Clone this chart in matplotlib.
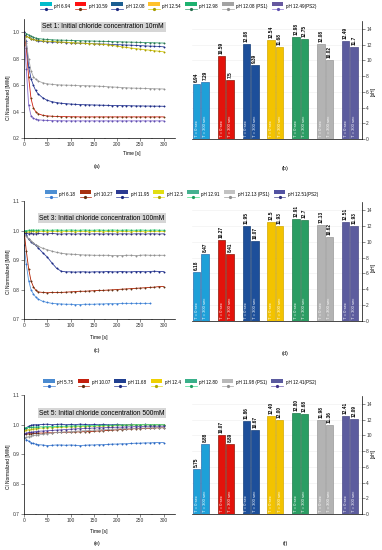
import matplotlib
matplotlib.use('Agg')
import matplotlib.pyplot as plt
import numpy as np
from matplotlib.legend_handler import HandlerBase
from matplotlib.patches import Rectangle
from matplotlib.lines import Line2D

plt.rcParams['font.family'] = ['Liberation Sans', 'DejaVu Sans']

# time axis of the chloride measurements [s]
time_s = [0, 5, 10, 15, 20, 25, 30, 40, 50, 60, 70, 80, 90, 100, 110, 120, 130, 140, 150,
          160, 170, 180, 190, 200, 210, 220, 230, 240, 250, 260, 270, 280, 290, 300]
nan = np.nan

# ---- Set 1: 10 mM ----
set1_names = ["pH 6.94", "pH 10.59", "pH 12.08", "pH 12.54", "pH 12.98", "pH 12.08 (PS1)", "pH 12.49(PS2)"]
set1_ph694 = [0.98, 0.97, 0.96, 0.95, 0.945, 0.94, 0.935, 0.93, 0.928, 0.926, 0.925, 0.924, 0.922, 0.92, 0.918, 0.917, 0.916,
              0.915, 0.913, 0.912, 0.91, 0.909, 0.907, 0.906, 0.905, 0.903, 0.902, 0.90, 0.899, 0.897, 0.895, 0.894, 0.892, 0.89]
set1_ph1059 = [1.0, 0.88, 0.66, 0.5, 0.43, 0.4, 0.385, 0.372, 0.367, 0.365, 0.363, 0.362, 0.362, 0.361, 0.361, 0.36, 0.36,
               0.36, 0.36, 0.36, 0.36, 0.36, 0.36, 0.36, 0.36, 0.36, 0.36, 0.36, 0.36, 0.36, 0.36, 0.36, 0.36, 0.36]
set1_ph1208 = [1.0, 0.93, 0.74, 0.65, 0.6, 0.56, 0.535, 0.505, 0.485, 0.475, 0.468, 0.463, 0.46, 0.457, 0.455, 0.453, 0.452,
               0.451, 0.45, 0.449, 0.448, 0.447, 0.446, 0.446, 0.445, 0.445, 0.444, 0.443, 0.443, 0.442, 0.442, 0.441, 0.441, 0.44]
set1_ph1254 = [0.9, 0.97, 0.96, 0.95, 0.945, 0.94, 0.938, 0.935, 0.932, 0.93, 0.928, 0.926, 0.924, 0.922, 0.92, 0.918, 0.916,
               0.914, 0.912, 0.91, 0.908, 0.905, 0.9, 0.895, 0.89, 0.885, 0.88, 0.876, 0.872, 0.868, 0.864, 0.86, 0.856, 0.852]
set1_ph1298 = [1.0, 0.99, 0.98, 0.97, 0.962, 0.956, 0.952, 0.948, 0.945, 0.943, 0.941, 0.94, 0.939, 0.938, 0.937, 0.936, 0.935,
               0.934, 0.933, 0.932, 0.931, 0.93, 0.929, 0.928, 0.927, 0.926, 0.925, 0.924, 0.923, 0.922, 0.921, 0.92, 0.919, 0.918]
set1_ps1 = [1.0, 0.92, 0.8, 0.71, 0.665, 0.645, 0.632, 0.618, 0.61, 0.606, 0.603, 0.601, 0.6, 0.599, 0.598, 0.597, 0.596,
            0.595, 0.594, 0.592, 0.59, 0.588, 0.586, 0.584, 0.582, 0.58, 0.578, 0.577, 0.576, 0.575, 0.574, 0.573, 0.572, 0.571]
set1_ps2 = [1.0, 0.72, 0.45, 0.37, 0.35, 0.342, 0.338, 0.335, 0.333, 0.332, 0.331, 0.331, 0.33, 0.33, 0.33, 0.33, 0.33,
            0.33, 0.33, 0.33, 0.33, 0.33, 0.33, 0.33, 0.33, 0.33, 0.33, 0.33, 0.33, 0.33, 0.33, 0.33, 0.33, 0.33]
set1_ph_t0 = ["6.94", "10.59", "12.08", "12.54", "12.98", "12.08", "12.49"]
set1_ph_t300 = ["7.29", "7.5", "9.39", "11.68", "12.75", "10.02", "11.7"]

# ---- Set 3: 100 mM ----
set3_names = ["pH 6.18", "pH 10.27", "pH 11.95", "pH 12.5", "pH 12.91", "pH 12.13 (PS1)", "pH 12.51(PS2)"]
set3_ph618 = [0.95, 0.885, 0.83, 0.8, 0.785, 0.775, 0.768, 0.76, 0.756, 0.753, 0.752, 0.751, 0.75, 0.75, 0.749, 0.749, 0.75,
              0.75, 0.75, 0.751, 0.751, 0.752, 0.752, 0.752, 0.753, 0.753, 0.753, 0.753, 0.753, 0.753, 0.753, nan, nan, nan]
set3_ph1027 = [1.0, 0.93, 0.87, 0.83, 0.81, 0.798, 0.792, 0.79, 0.789, 0.79, 0.79, 0.79, 0.791, 0.792, 0.793, 0.794, 0.794,
               0.795, 0.796, 0.797, 0.797, 0.798, 0.799, 0.8, 0.801, 0.802, 0.803, 0.804, 0.805, 0.806, 0.807, 0.808, 0.81, 0.81]
set3_ph1195 = [1.0, 0.985, 0.97, 0.962, 0.956, 0.95, 0.942, 0.925, 0.91, 0.89, 0.872, 0.862, 0.86, 0.86, 0.859, 0.86, 0.86,
               0.859, 0.86, 0.86, 0.86, 0.861, 0.86, 0.86, 0.861, 0.86, 0.86, 0.861, 0.861, 0.86, 0.861, 0.862, 0.861, 0.861]
set3_ph125 = [0.99, 0.995, 0.996, 0.997, 0.997, 0.996, 0.997, 0.997, 0.996, 0.997, 0.997, 0.996, 0.997, 0.997, 0.996, 0.997, 0.997,
              0.996, 0.997, 0.997, 0.996, 0.997, 0.997, 0.996, 0.997, 0.997, 0.996, 0.997, 0.997, 0.996, 0.997, 0.997, 0.997, 0.997]
set3_ph1291 = [1.0, 1.0, 1.001, 1.001, 1.002, 1.001, 1.001, 1.002, 1.001, 1.001, 1.002, 1.001, 1.001, 1.002, 1.001, 1.001, 1.002,
               1.001, 1.001, 1.002, 1.001, 1.001, 1.002, 1.001, 1.001, 1.002, 1.001, 1.001, 1.002, 1.001, 1.001, 1.002, 1.001, 1.001]
set3_ps1 = [0.99, 0.98, 0.972, 0.965, 0.958, 0.952, 0.947, 0.94, 0.935, 0.93, 0.926, 0.923, 0.921, 0.92, 0.919, 0.918, 0.917,
            0.917, 0.916, 0.916, 0.916, 0.916, 0.915, 0.915, 0.915, 0.916, 0.916, 0.915, 0.916, 0.917, 0.916, 0.916, 0.916, 0.916]
set3_ps2 = [0.99, 0.99, 0.989, 0.99, 0.989, 0.989, 0.99, 0.989, 0.989, 0.99, 0.989, 0.988, 0.989, 0.989, 0.988, 0.989, 0.989,
            0.988, 0.989, 0.989, 0.988, 0.989, 0.989, 0.988, 0.989, 0.989, 0.988, 0.989, 0.989, 0.988, 0.989, 0.989, 0.988, 0.989]
set3_ph_t0 = ["6.18", "10.27", "11.95", "12.5", "12.91", "12.13", "12.51"]
set3_ph_t300 = ["8.47", "8.41", "10.07", "11.93", "12.7", "10.62", "11.93"]

# ---- Set 5: 500 mM ----
set5_names = ["pH 5.75", "pH 10.07", "pH 11.68", "pH 12.4", "pH 12.80", "pH 11.98 (PS1)", "pH 12.41(PS2)"]
set5_ph575 = [0.96, 0.95, 0.945, 0.94, 0.937, 0.935, 0.933, 0.932, 0.93, 0.931, 0.932, 0.932, 0.931, 0.932, 0.931, 0.93, 0.931,
              0.932, 0.932, 0.933, 0.933, 0.934, 0.935, 0.935, 0.936, 0.936, 0.937, 0.938, 0.938, 0.939, 0.939, 0.94, 0.94, 0.94]
set5_ph1007 = [0.968, 0.969, 0.97, 0.97, 0.971, 0.971, 0.972, 0.972, 0.973, 0.973, 0.974, 0.974, 0.975, 0.975, 0.976, 0.976, 0.977,
               0.977, 0.978, 0.979, 0.98, 0.981, 0.982, 0.983, 0.984, 0.985, 0.986, 0.987, 0.987, 0.988, 0.988, 0.989, 0.99, 0.99]
set5_ph1168 = [0.985, 0.99, 0.995, 0.998, 1.0, 1.0, 1.0, 1.001, 1.002, 1.0, 1.001, 1.002, 1.0, 1.001, 1.0, 1.002, 1.001,
               1.0, 1.001, 1.0, 1.001, 1.0, 1.0, 1.001, 1.0, 1.0, 1.001, 1.0, 1.0, 1.001, 1.0, 1.0, 1.0, 1.0]
set5_ph124 = [0.98, 0.982, 0.984, 0.985, 0.986, 0.987, 0.988, 0.989, 0.99, 0.99, 0.991, 0.992, 0.992, 0.993, 0.993, 0.994, 0.994,
              0.995, 0.995, 0.996, 0.996, 0.997, 0.997, 0.998, 0.998, 0.999, 0.999, 1.0, 1.0, 1.0, 1.0, 1.0, 1.0, 1.0]
set5_ph1280 = [0.99, 0.99, 0.991, 0.991, 0.992, 0.992, 0.993, 0.993, 0.994, 0.994, 0.995, 0.995, 0.995, 0.996, 0.996, 0.996, 0.997,
               0.997, 0.997, 0.998, 0.998, 0.998, 0.998, 0.999, 0.999, 0.999, 0.999, 1.0, 1.0, 1.0, 1.0, 1.0, 1.0, 1.0]
set5_ps1 = [0.955, 0.958, 0.96, 0.962, 0.964, 0.965, 0.966, 0.968, 0.97, 0.972, 0.974, 0.975, 0.976, 0.977, 0.978, 0.979, 0.98,
            0.981, 0.982, 0.983, 0.984, 0.985, 0.985, 0.986, 0.987, 0.987, 0.988, 0.988, 0.989, 0.989, 0.99, 0.99, 0.99, 0.99]
set5_ps2 = [0.97, 0.972, 0.974, 0.975, 0.976, 0.977, 0.978, 0.979, 0.98, 0.981, 0.982, 0.983, 0.984, 0.985, 0.986, 0.987, 0.988,
            0.988, 0.989, 0.99, 0.99, 0.991, 0.991, 0.992, 0.992, 0.993, 0.993, 0.994, 0.994, 0.995, 0.995, 0.995, 0.995, 0.995]
set5_ph_t0 = ["5.75", "10.07", "11.86", "12.40", "12.80", "11.98", "12.41"]
set5_ph_t300 = ["8.88", "8.89", "10.67", "12.00", "12.68", "11.36", "12.09"]

# colours
legend_colors = [
    ['#00bccb', '#ff1010', '#1b5e92', '#ffc12a', '#1db26f', '#a3a3a3', '#6658a0'],
    ['#4d8fd3', '#a8300f', '#2b3a92', '#e2de10', '#45b18f', '#c2c2c2', '#5252a2'],
    ['#4a8ad0', '#c4200e', '#203f90', '#efd000', '#3ab08a', '#b8b8b8', '#5a5a9e'],
]
line_colors = [
    ['#3a4fa0', '#d02010', '#2c3c9a', '#d8cf10', '#3aa070', '#a8a8a8', '#8a70d0'],
    ['#5a9ae0', '#b02000', '#2c3c9a', '#e8e020', '#40dd80', '#a0a0a0', '#4a4a90'],
    ['#4a86d6', '#b02810', '#2c3c9a', '#e4dc20', '#40d890', '#a8a8a8', '#6a5ab0'],
]
marker_colors = [
    ['#1c2a80', '#6b3a10', '#1c2a80', '#a89c00', '#2a7050', '#8f8f8f', '#6050b0'],
    ['#3a7ad0', '#603010', '#1c2a80', '#b0a800', '#20a060', '#8f8f8f', '#30307a'],
    ['#2a66c0', '#603010', '#1c2a80', '#b0a800', '#20a060', '#8f8f8f', '#40308a'],
]
bar_colors = ['#1ea0d8', '#e3120b', '#1d4f9a', '#f3c300', '#2a9d63', '#b3b3b3', '#5c5c9e']
bar_edges = ['#2a6fb0', '#8b1a0a', '#173f7a', '#d4a800', '#1d7a4a', '#9a9a9a', '#4a4a85']

sets = [
    dict(title="Set 1: Initial chloride concentration 10mM", names=set1_names,
         series=[set1_ph694, set1_ph1059, set1_ph1208, set1_ph1254, set1_ph1298, set1_ps1, set1_ps2],
         t0=set1_ph_t0, t300=set1_ph_t300, ylim=(0.2, 1.1), yticks=[0.2, 0.4, 0.6, 0.8, 1.0]),
    dict(title="Set 3: Initial chloride concentration 100mM", names=set3_names,
         series=[set3_ph618, set3_ph1027, set3_ph1195, set3_ph125, set3_ph1291, set3_ps1, set3_ps2],
         t0=set3_ph_t0, t300=set3_ph_t300, ylim=(0.7, 1.1), yticks=[0.7, 0.8, 0.9, 1.0, 1.1]),
    dict(title="Set 5: Initial chloride concentration 500mM", names=set5_names,
         series=[set5_ph575, set5_ph1007, set5_ph1168, set5_ph124, set5_ph1280, set5_ps1, set5_ps2],
         t0=set5_ph_t0, t300=set5_ph_t300, ylim=(0.7, 1.1), yticks=[0.7, 0.8, 0.9, 1.0, 1.1]),
]


class LegendKey:
    def __init__(self, patch, line, marker):
        self.patch, self.line, self.marker = patch, line, marker


class KeyHandler(HandlerBase):
    # coloured box on top, line with marker below (Origin style)
    def create_artists(self, legend, key, xdescent, ydescent, width, height, fontsize, trans):
        x0, y0 = -xdescent, -ydescent
        box = Rectangle((x0, y0 + height * 0.5), width, height * 0.55, facecolor=key.patch,
                        edgecolor='none', transform=trans)
        ln = Line2D([x0, x0 + width], [y0 + height * 0.08] * 2, color=key.line, lw=0.5, transform=trans)
        dot = Line2D([x0 + width / 2], [y0 + height * 0.08], marker='o', ms=1.3, color=key.marker,
                     lw=0, transform=trans)
        return [box, ln, dot]


fig = plt.figure(figsize=(3.82, 5.5), dpi=100)

line_rects = [[0.0628, 0.749, 0.395, 0.2165], [0.0628, 0.42, 0.395, 0.2145], [0.0628, 0.0655, 0.395, 0.2163]]
bar_rects = [[0.5026, 0.7473, 0.445, 0.2145], [0.5026, 0.4164, 0.445, 0.2163], [0.5026, 0.0655, 0.445, 0.2145]]
legend_pos = [(0.467, 0.989), (0.476, 0.647), (0.47, 0.3036)]
title_pos = [(0.27, 0.951), (0.267, 0.6036), (0.267, 0.249)]
time_pos = [(0.346, 0.72), (0.258, 0.387), (0.258, 0.033)]
ylab_pos = [0.822, 0.505, 0.151]
phlab_pos = [0.833, 0.513, 0.176]
letters = [("(a)", "(b)", 0.698, 0.6945), ("(c)", "(d)", 0.3636, 0.358), ("(e)", "(f)", 0.011, 0.011)]

for i, s in enumerate(sets):
    # ---- time series ----
    ax = fig.add_axes(line_rects[i])
    for k, vals in enumerate(s['series']):
        ax.plot(time_s, vals, color=line_colors[i][k], lw=0.6, marker='o', ms=1.1,
                mfc=marker_colors[i][k], mec=marker_colors[i][k], mew=0.2)
    ax.set_xlim(0, 324)
    ax.set_ylim(*s['ylim'])
    ax.set_xticks([0, 50, 100, 150, 200, 250, 300])
    ax.set_xticks(np.arange(25, 325, 50), minor=True)
    ax.set_yticks(s['yticks'])
    ax.set_yticklabels([f"{v:.1f}" for v in s['yticks']])
    for side in ['top', 'right']:
        ax.spines[side].set_visible(False)
    for side in ['left', 'bottom']:
        ax.spines[side].set_linewidth(0.5)
    ax.tick_params(labelsize=3.5, length=2, width=0.4, pad=1, colors='#333333')
    ax.tick_params(which='minor', length=1, width=0.3)
    fig.text(title_pos[i][0], title_pos[i][1], s['title'], fontsize=4.8, ha='center', va='center',
             bbox=dict(facecolor='#d6d6d6', edgecolor='none', pad=1.2))
    fig.text(time_pos[i][0], time_pos[i][1], "Time [s]", fontsize=3.5, ha='center', va='center')
    fig.text(0.021, ylab_pos[i], "Cl Normalized [M/M]", fontsize=3.5, rotation=90, ha='center', va='center')

    # ---- pH bars ----
    bx = fig.add_axes(bar_rects[i])
    pos = np.arange(len(s['t0']))
    h0 = [float(v) for v in s['t0']]
    h1 = [float(v) for v in s['t300']]
    bx.bar(pos - 0.17, h0, width=0.3, color=bar_colors, edgecolor=bar_edges, lw=0.5, zorder=2)
    bx.bar(pos + 0.17, h1, width=0.3, color=bar_colors, edgecolor=bar_edges, lw=0.5, zorder=2)
    for p, a, b, la, lb in zip(pos, h0, h1, s['t0'], s['t300']):
        bx.text(p - 0.17, a + 0.25, la, rotation=90, fontsize=3.4, fontweight='bold', ha='center', va='bottom')
        bx.text(p + 0.17, b + 0.25, lb, rotation=90, fontsize=3.4, fontweight='bold', ha='center', va='bottom')
        bx.text(p - 0.17, 0.3, "T = 0 sec", rotation=90, fontsize=3.0, color='white', ha='center', va='bottom', zorder=3)
        bx.text(p + 0.17, 0.3, "T = 300 sec", rotation=90, fontsize=3.0, color='white', ha='center', va='bottom', zorder=3)
    bx.set_xlim(-0.36, 6.49)
    bx.set_ylim(0, 15)
    bx.set_yticks(range(0, 15, 2))
    bx.set_xticks([])
    bx.yaxis.tick_right()
    bx.grid(axis='y', color='#eeeeee', lw=0.4, zorder=0)
    for side in ['top', 'left']:
        bx.spines[side].set_visible(False)
    for side in ['right', 'bottom']:
        bx.spines[side].set_linewidth(0.5)
    bx.tick_params(labelsize=3.5, length=2, width=0.4, pad=1, colors='#333333')
    fig.text(0.976, phlab_pos[i], "[pH]", fontsize=3.5, rotation=90, ha='center', va='center')

    fig.text(0.254, letters[i][2], letters[i][0], fontsize=4, ha='center', va='center')
    fig.text(0.746, letters[i][3], letters[i][1], fontsize=4, ha='center', va='center')

    # ---- legend ----
    keys = [LegendKey(legend_colors[i][k], line_colors[i][k], marker_colors[i][k]) for k in range(7)]
    fig.legend(handles=keys, labels=s['names'], handler_map={LegendKey: KeyHandler()}, ncol=7,
               loc='center', bbox_to_anchor=legend_pos[i], frameon=False, fontsize=3.3,
               handlelength=2.5, handleheight=1.9, handletextpad=0.6, columnspacing=0.9, borderpad=0)

fig.savefig("out.png", dpi=100)
